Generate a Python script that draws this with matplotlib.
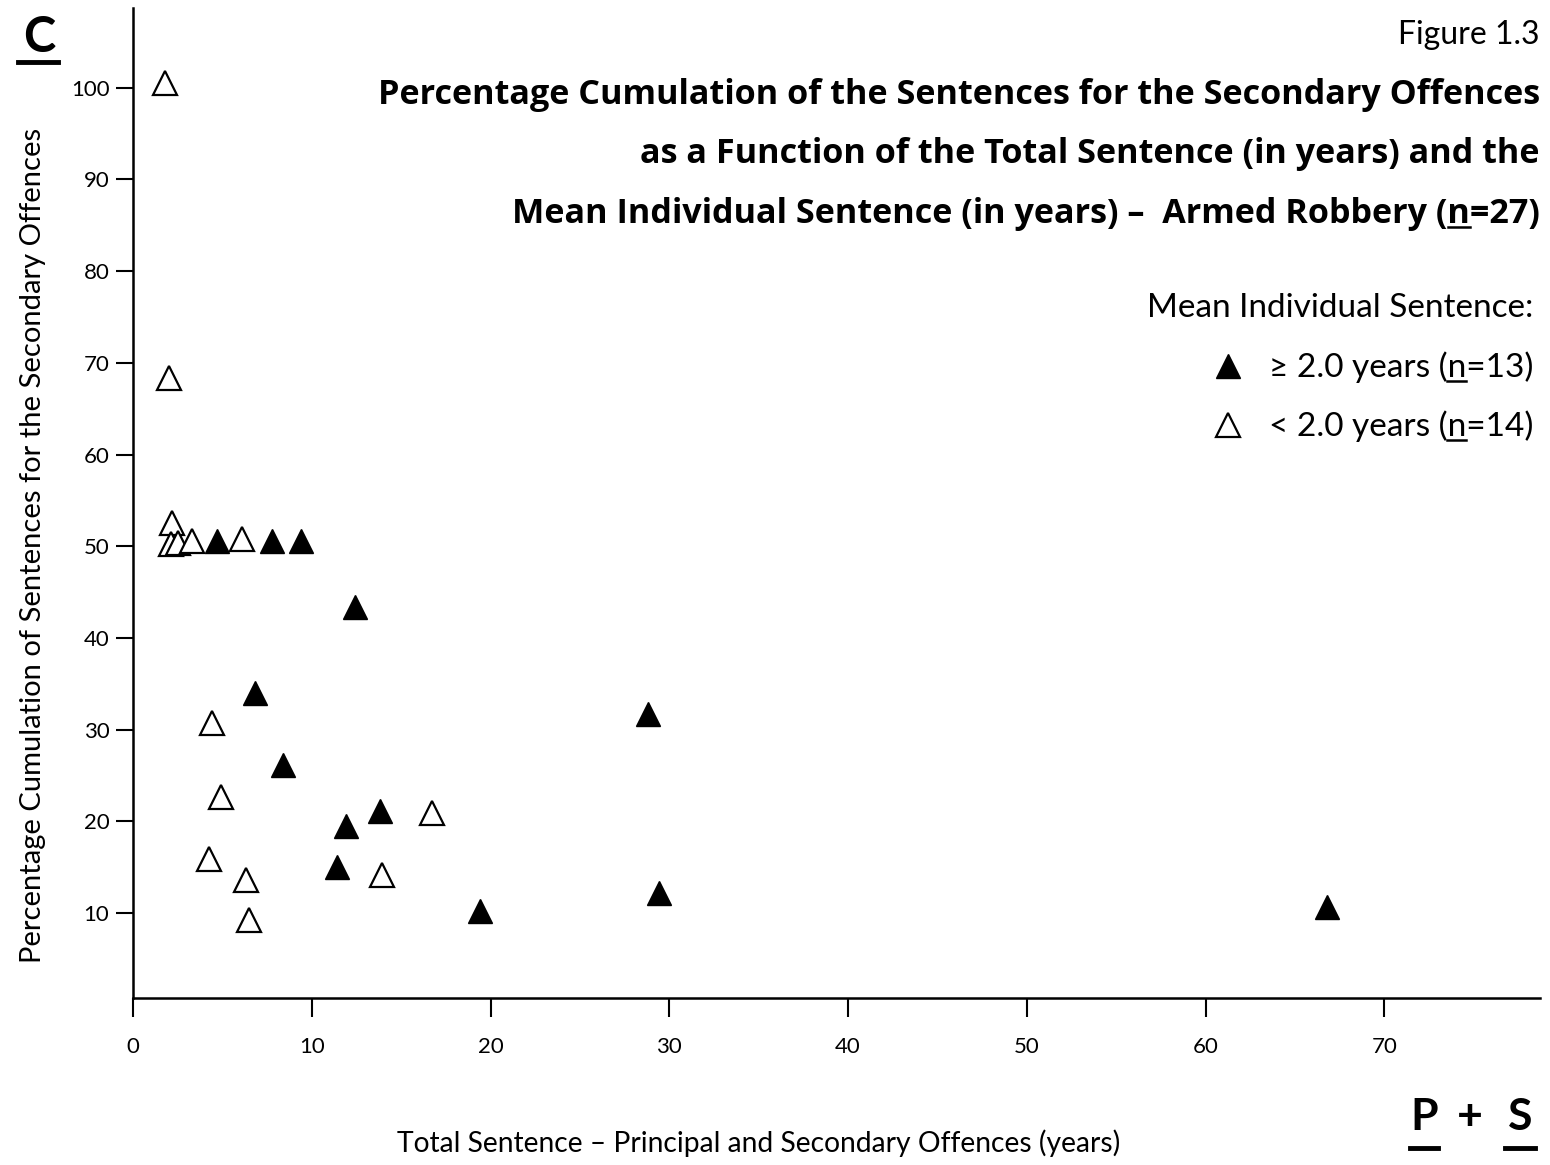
import matplotlib
matplotlib.use("Agg")
import matplotlib.pyplot as plt
from matplotlib.lines import Line2D

plt.rcParams['font.family'] = ['Lato', 'DejaVu Sans']

# Mean individual sentence >= 2.0 years (filled)
high_x = [4.7, 7.8, 9.4, 12.4, 6.8, 8.4, 11.9, 13.8, 11.4, 19.4, 28.8, 29.4, 66.8]
high_y = [50.6, 50.6, 50.6, 43.4, 34.0, 26.1, 19.5, 21.1, 15.0, 10.2, 31.7, 12.2, 10.7]
# Mean individual sentence < 2.0 years (open)
low_x = [1.8, 2.0, 2.2, 2.1, 2.5, 3.3, 6.1, 4.4, 4.9, 4.25, 6.3, 6.5, 13.9, 16.7]
low_y = [100.5, 68.4, 52.5, 50.2, 50.4, 50.6, 50.8, 30.7, 22.7, 15.9, 13.6, 9.2, 14.1, 20.9]

x_ticks = [0, 10, 20, 30, 40, 50, 60, 70]
y_ticks = [10, 20, 30, 40, 50, 60, 70, 80, 90, 100]

W, H = 1550, 1165
fig = plt.figure(figsize=(15.5, 11.65), dpi=100)
renderer = fig.canvas.get_renderer()
ax = fig.add_axes([133 / W, 1 - 998 / H, (1540 - 133) / W, (998 - 8) / H])

ax.plot(high_x, high_y, linestyle='none', marker='^', markersize=17,
        markerfacecolor='black', markeredgecolor='black', markeredgewidth=1.0)
ax.plot(low_x, low_y, linestyle='none', marker='^', markersize=17,
        markerfacecolor='white', markeredgecolor='black', markeredgewidth=1.6)

ax.set_xlim(0, 78.7)
ax.set_ylim(0.73, 108.7)
ax.set_xticks(x_ticks)
ax.set_yticks(y_ticks)
ax.tick_params(axis='x', direction='out', length=14, width=1.5, labelsize=16, pad=14)
ax.tick_params(axis='y', direction='out', length=12, width=1.5, labelsize=16, pad=5)
for s in ['top', 'right']:
    ax.spines[s].set_visible(False)
for s in ['left', 'bottom']:
    ax.spines[s].set_linewidth(1.8)

fig.text(33 / W, 1 - 545 / H,
         "Percentage Cumulation of Sentences for the Secondary Offences",
         rotation=90, ha='center', va='center', fontsize=21)
fig.text(759 / W, 1 - 1143 / H,
         "Total Sentence \u2013 Principal and Secondary Offences (years)",
         ha='center', va='center', fontsize=20.3)

fig.text(1540 / W, 1 - 35 / H, "Figure 1.3", ha='right', va='center', fontsize=23)


def text_width(s, **kw):
    t = fig.text(0, 0, s, **kw)
    w = t.get_window_extent(renderer).width
    t.remove()
    return w


def underlined_text(x, y_base, pre, post, ha, **kw):
    """Text whose 'n' between pre and post is underlined."""
    full = pre + "n" + post
    t = fig.text(x, y_base, full, ha=ha, va='baseline', **kw)
    ext = t.get_window_extent(renderer)
    x0 = ext.x0 + text_width(pre, **kw)
    x1 = ext.x0 + text_width(pre + "n", **kw)
    yb = y_base * H - 4
    fig.add_artist(Line2D([x0 / W, x1 / W], [yb / H, yb / H], color='black',
                          linewidth=1.8))
    return t


bold_kw = dict(fontsize=24.6, fontweight='bold', family=['Open Sans', 'DejaVu Sans'])
fig.text(1540 / W, 1 - 104 / H,
         "Percentage Cumulation of the Sentences for the Secondary Offences",
         ha='right', va='baseline', **bold_kw)
fig.text(1540 / W, 1 - 163 / H,
         "as a Function of the Total Sentence (in years) and the",
         ha='right', va='baseline', **bold_kw)
underlined_text(1540 / W, 1 - 223 / H,
                "Mean Individual Sentence (in years) \u2013  Armed Robbery (", "=27)",
                'right', **bold_kw)

# legend (manual)
leg_kw = dict(fontsize=24)
fig.text(1533 / W, 1 - 317 / H, "Mean Individual Sentence:", ha='right',
         va='baseline', **leg_kw)
underlined_text(1533 / W, 1 - 377 / H, "\u2265 2.0 years (", "=13)", 'right', **leg_kw)
underlined_text(1533 / W, 1 - 436 / H, "< 2.0 years (", "=14)", 'right', **leg_kw)
fig.add_artist(Line2D([1228 / W], [1 - 366 / H], linestyle='none', marker='^',
                      markersize=17, markerfacecolor='black', markeredgecolor='black'))
fig.add_artist(Line2D([1228 / W], [1 - 425 / H], linestyle='none', marker='^',
                      markersize=17, markerfacecolor='white', markeredgecolor='black',
                      markeredgewidth=1.6))

# corner marks
fig.text(39 / W, 1 - 52 / H, "C", ha='center', va='baseline', fontsize=35,
         fontweight='bold')
fig.add_artist(Line2D([18 / W, 58 / W], [1 - 62 / H, 1 - 62 / H],
                      color='black', linewidth=3.5))
for ch, xc in [("P", 1424), ("+", 1470), ("S", 1520)]:
    fig.text(xc / W, 1 - 1130 / H, ch, ha='center', va='baseline', fontsize=32,
             fontweight='bold')
fig.add_artist(Line2D([1410 / W, 1438 / W], [1 - 1148 / H, 1 - 1148 / H],
                      color='black', linewidth=3.5))
fig.add_artist(Line2D([1505 / W, 1535 / W], [1 - 1148 / H, 1 - 1148 / H],
                      color='black', linewidth=3.5))

fig.savefig("out.png", dpi=100)
